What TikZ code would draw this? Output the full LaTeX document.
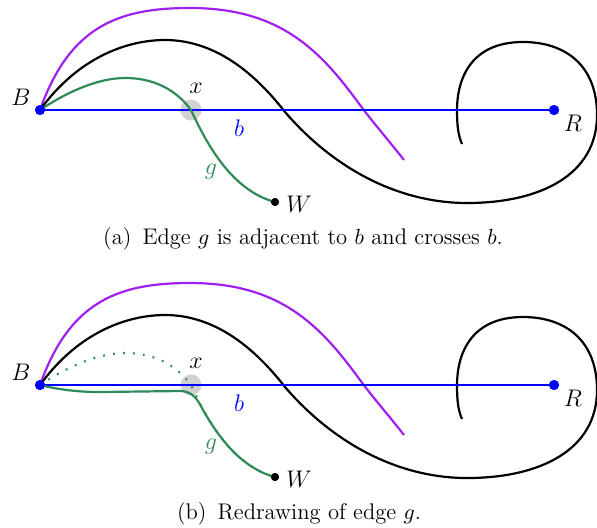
\documentclass[tikz,border=0pt]{standalone}
\usepackage{tikz}
\definecolor{edgepurple}{RGB}{160,32,240}
\definecolor{edgegreen}{RGB}{46,139,87}
\tikzset{
  curve/.style={line width=1.1pt},
  bedge/.style={line width=1.1pt, blue},
  gedge/.style={line width=1.1pt, edgegreen},
  pedge/.style={line width=1.1pt, edgepurple},
  gdots/.style={line width=1.1pt, edgegreen, dash pattern=on 0.9pt off 4.1pt},
  bdot/.style={circle, fill=blue, inner sep=0pt, minimum size=5pt},
  kdot/.style={circle, fill=black, inner sep=0pt, minimum size=4pt},
  xmark/.style={circle, fill=gray!35, inner sep=0pt, minimum size=10.5pt},
  lbl/.style={font=\large},
  captext/.style={font=\fontsize{11.3}{13}\selectfont}
}
\begin{document}
\begin{tikzpicture}[x=0.5pt,y=-0.5pt]
\useasboundingbox (0,0) rectangle (597,527);
% ---------- panel (a) ----------
\begin{scope}
\node[xmark] (xa) at (191,110) {};
\node[bdot] (Ba) at (40,110) {};
\node[bdot] (Ra) at (554,110) {};
\node[kdot] (Wa) at (275,202) {};
\draw[pedge] (Ba.center) .. controls (70,25) and (120,8) .. (190,8)
  .. controls (280,8) and (320,50) .. (360,105)
  .. controls (375,125) and (390,142) .. (404,160);
\draw[curve] (Ba.center) .. controls (80,55) and (130,40) .. (165,40)
  .. controls (220,40) and (260,80) .. (285,112)
  .. controls (335,170) and (400,203) .. (467,203)
  .. controls (540,203) and (597,175) .. (597,115)
  .. controls (597,65) and (565,42) .. (523,42)
  .. controls (470,42) and (457,80) .. (457,110)
  .. controls (457,125) and (458,135) .. (462,144);
\draw[bedge] (Ba.center) -- (Ra.center);
\draw[gedge] (Ba.center) .. controls (70,90) and (100,78) .. (125,78)
  .. controls (160,78) and (180,95) .. (xa.center)
  .. controls (205,140) and (230,190) .. (Wa.center);
\node[bdot] at (Ba) {};
\node[bdot] at (Ra) {};
\node[kdot] at (Wa) {};
\node[lbl] (Bla) at (21,97) {$B$};
\node[lbl] (Rla) at (573,123) {$R$};
\node[lbl] (Wla) at (299,204) {$W$};
\node[lbl] (xla) at (196,88) {$x$};
\node[lbl, blue] (bla) at (239,128) {$b$};
\node[lbl, edgegreen] (gla) at (211,172) {$g$};
\node[captext] (capa) at (303,239) {(a)\, Edge $g$ is adjacent to $b$ and crosses $b$.};
\end{scope}
% ---------- panel (b) ----------
\begin{scope}[shift={(0,275)}]
\node[xmark] (xb) at (191,110) {};
\node[bdot] (Bb) at (40,110) {};
\node[bdot] (Rb) at (554,110) {};
\node[kdot] (Wb) at (275,202) {};
\draw[pedge] (Bb.center) .. controls (70,25) and (120,8) .. (190,8)
  .. controls (280,8) and (320,50) .. (360,105)
  .. controls (375,125) and (390,142) .. (404,160);
\draw[curve] (Bb.center) .. controls (80,55) and (130,40) .. (165,40)
  .. controls (220,40) and (260,80) .. (285,112)
  .. controls (335,170) and (400,203) .. (467,203)
  .. controls (540,203) and (597,175) .. (597,115)
  .. controls (597,65) and (565,42) .. (523,42)
  .. controls (470,42) and (457,80) .. (457,110)
  .. controls (457,125) and (458,135) .. (462,144);
\draw[bedge] (Bb.center) -- (Rb.center);
\draw[gdots] (Bb.center) .. controls (70,90) and (100,78) .. (125,78)
  .. controls (160,78) and (180,95) .. (xb.center)
  .. controls (205,140) and (230,190) .. (Wb.center);
\draw[gedge] (Bb.center) .. controls (60,115) and (80,117) .. (100,117)
  -- (180,116) .. controls (190,116) and (195.6,121.4) .. (200.28,129.94)
  .. controls (215.8,158.48) and (239,192.4) .. (Wb.center);
\node[bdot] at (Bb) {};
\node[bdot] at (Rb) {};
\node[kdot] at (Wb) {};
\node[lbl] (Blb) at (21,97) {$B$};
\node[lbl] (Rlb) at (573,123) {$R$};
\node[lbl] (Wlb) at (299,204) {$W$};
\node[lbl] (xlb) at (196,88) {$x$};
\node[lbl, blue] (blb) at (239,128) {$b$};
\node[lbl, edgegreen] (glb) at (211,172) {$g$};
\node[captext] (capb) at (299,239) {(b)\, Redrawing of edge $g$.};
\end{scope}
\end{tikzpicture}
\end{document}
